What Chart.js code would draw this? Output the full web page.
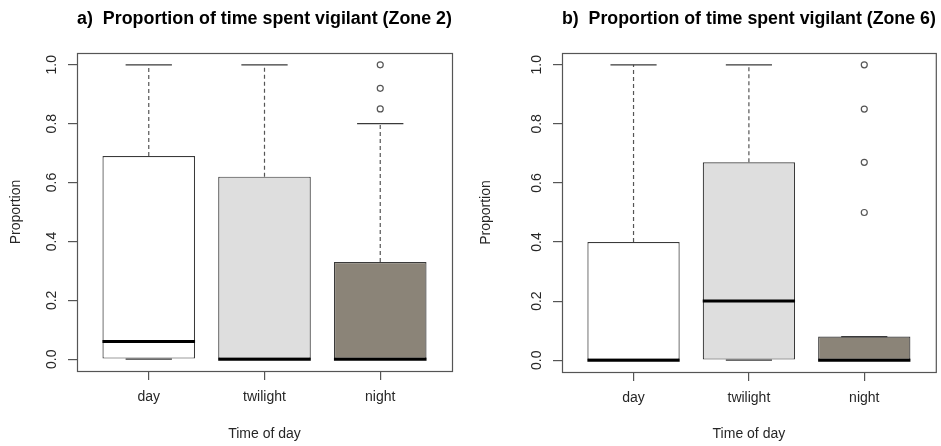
<!DOCTYPE html>
<html>
<head>
<meta charset="utf-8">
<script src="https://cdn.jsdelivr.net/npm/chart.js@4/dist/chart.umd.min.js"></script>
<style>
  body { margin: 0; background: #fff; }
  canvas { float: left; }
</style>
</head>
<body>
<canvas id="zona2" width="470" height="446"></canvas>
<canvas id="zona6" width="471" height="446"></canvas>
<script>
// Datos
const categorias = ["day", "twilight", "night"];
const yTicks = [0, 0.2, 0.4, 0.6, 0.8, 1.0];

// Zone 2
const z2Min = [0, 0, 0];
const z2Q1 = [0, 0, 0];
const z2Mediana = [0.06, 0, 0];
const z2Q3 = [0.69, 0.62, 0.33];
const z2Max = [1.0, 1.0, 0.8];
const z2Atipicos = [[], [], [0.85, 0.92, 1.0]];

// Zone 6
const z6Min = [0, 0, 0];
const z6Q1 = [0, 0, 0];
const z6Mediana = [0, 0.2, 0];
const z6Q3 = [0.4, 0.67, 0.08];
const z6Max = [1.0, 1.0, 0.08];
const z6Atipicos = [[], [], [0.5, 0.67, 0.85, 1.0]];

const colores = ["#ffffff", "#dedede", "#8b8478"];
const gris = "#555555";
const borde = "#3a3a3a";
const texto = "#262626";
const fuente = "'Liberation Sans', Arial, sans-serif";

// Une segmentos con un hueco (null) entre cada caja
function segmentos(fn) {
  const out = [];
  categorias.forEach((c, i) => {
    fn(i + 1, i).forEach((p) => out.push(p));
    out.push({ x: i + 1.5, y: null });
  });
  return out;
}

// Marco alrededor del area del grafico
const marco = {
  id: "marco",
  afterDraw(chart) {
    const { ctx, chartArea: a } = chart;
    ctx.save();
    ctx.strokeStyle = gris;
    ctx.lineWidth = 1.2;
    ctx.strokeRect(a.left + 0.5, a.top + 0.5, a.width, a.height);
    ctx.restore();
  },
};

function crearPanel(id, titulo, d, geo) {
  const datasets = [
    {
      type: "bar",
      order: 4,
      data: categorias.map((c, i) => ({ x: i + 1, y: [d.q1[i], d.q3[i]] })),
      backgroundColor: colores,
      borderColor: borde,
      borderWidth: 1.2,
      borderSkipped: false,
      categoryPercentage: 1,
      barPercentage: 0.8,
    },
    {
      type: "line",
      order: 3,
      data: segmentos((x, i) => [
        { x: x, y: d.q3[i] }, { x: x, y: d.max[i] }, { x: x, y: null },
        { x: x, y: d.q1[i] }, { x: x, y: d.min[i] },
      ]),
      borderColor: "#555555",
      borderWidth: 1.2,
      borderDash: [4, 3],
      pointRadius: 0,
    },
    {
      type: "line",
      order: 2,
      data: segmentos((x, i) => [
        { x: x - 0.2, y: d.max[i] }, { x: x + 0.2, y: d.max[i] }, { x: x, y: null },
        { x: x - 0.2, y: d.min[i] }, { x: x + 0.2, y: d.min[i] },
      ]),
      borderColor: borde,
      borderWidth: 1.2,
      pointRadius: 0,
    },
    {
      type: "line",
      order: 1,
      data: segmentos((x, i) => [
        { x: x - 0.4, y: d.mediana[i] }, { x: x + 0.4, y: d.mediana[i] },
      ]),
      borderColor: "#000000",
      borderWidth: 3,
      pointRadius: 0,
    },
    {
      type: "scatter",
      order: 0,
      data: d.atipicos.flatMap((vals, i) => vals.map((v) => ({ x: i + 1, y: v }))),
      pointStyle: "circle",
      pointRadius: 3,
      borderColor: "#555555",
      backgroundColor: "rgba(0,0,0,0)",
      borderWidth: 1.2,
    },
  ];

  return new Chart(document.getElementById(id), {
    type: "bar",
    data: { datasets },
    options: {
      responsive: false,
      animation: false,
      layout: { padding: { left: 0, right: geo.derecha, top: 0, bottom: 0 } },
      plugins: {
        legend: { display: false },
        tooltip: { enabled: false },
        title: {
          display: true,
          text: titulo,
          fullSize: false,
          color: "#000000",
          font: { family: fuente, size: 18, weight: "bold" },
          padding: { top: 8, bottom: 23.4 },
        },
      },
      scales: {
        x: {
          type: "linear",
          min: 0.38,
          max: 3.62,
          offset: false,
          afterBuildTicks: (s) => { s.ticks = categorias.map((c, i) => ({ value: i + 1 })); },
          afterFit: (s) => { s.height = geo.alto; },
          ticks: {
            callback: (v) => categorias[v - 1],
            color: texto,
            font: { family: fuente, size: 14 },
            padding: 9,
            maxRotation: 0,
          },
          grid: { offset: false, drawOnChartArea: false, tickLength: 9, color: gris, lineWidth: 1.2 },
          border: { display: false },
          title: {
            display: true,
            text: "Time of day",
            color: texto,
            font: { family: fuente, size: 14 },
            padding: { top: 0, bottom: 3 },
          },
        },
        y: {
          type: "linear",
          min: -0.04,
          max: 1.04,
          afterBuildTicks: (s) => { s.ticks = yTicks.map((v) => ({ value: v })); },
          afterFit: (s) => { s.width = geo.izquierda; },
          ticks: {
            callback: (v) => v.toFixed(1),
            color: texto,
            font: { family: fuente, size: 14 },
            minRotation: 90,
            maxRotation: 90,
            crossAlign: "center",
            padding: 6,
          },
          grid: { drawOnChartArea: false, tickLength: 9, color: gris, lineWidth: 1.2 },
          border: { display: false },
          title: {
            display: true,
            text: "Proportion",
            color: texto,
            font: { family: fuente, size: 14 },
            padding: { top: 8, bottom: 0 },
          },
        },
      },
    },
    plugins: [marco],
  });
}

crearPanel("zona2", "a)  Proportion of time spent vigilant (Zone 2)", {
  min: z2Min, q1: z2Q1, mediana: z2Mediana, q3: z2Q3, max: z2Max, atipicos: z2Atipicos,
}, { izquierda: 77, derecha: 18, alto: 75 });

crearPanel("zona6", "b)  Proportion of time spent vigilant (Zone 6)", {
  min: z6Min, q1: z6Q1, mediana: z6Mediana, q3: z6Q3, max: z6Max, atipicos: z6Atipicos,
}, { izquierda: 92, derecha: 5, alto: 74 });
</script>
</body>
</html>
